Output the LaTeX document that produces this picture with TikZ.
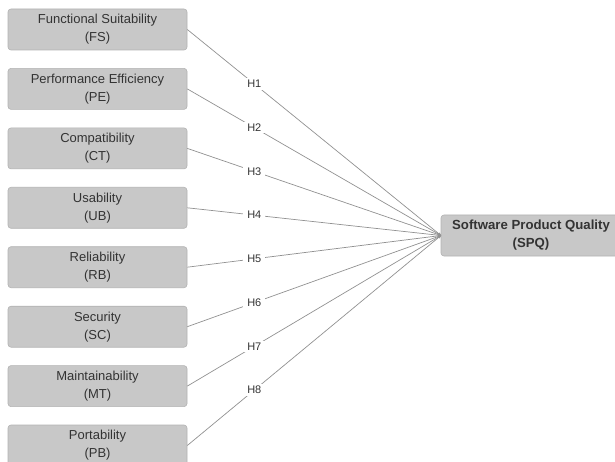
\documentclass[tikz,border=0pt]{standalone}
\usepackage{fontspec}
\setmainfont{Liberation Sans}
\usetikzlibrary{arrows.meta}
\definecolor{boxfill}{RGB}{200,200,200}
\definecolor{boxline}{RGB}{178,178,178}
\definecolor{txt}{RGB}{51,51,51}
\definecolor{wire}{RGB}{145,145,145}
\tikzset{
  factor/.style={rectangle, rounded corners=3pt, fill=boxfill, draw=boxline, line width=0.6pt,
    minimum width=179pt, minimum height=41pt, align=center, text=txt,
    font=\fontsize{13}{18}\selectfont, inner sep=0pt},
  target/.style={factor, minimum width=180pt, font=\bfseries\fontsize{13.2}{18}\selectfont},
  link/.style={draw=wire, line width=0.7pt, -{Stealth[length=3pt,width=3pt]}},
  hyp/.style={pos=0.264, fill=white, text=txt, inner xsep=4pt, inner ysep=2pt, font=\fontsize{11}{12}\selectfont}
}
\begin{document}
\begin{tikzpicture}[x=1pt,y=-1pt]
\useasboundingbox (0,0) rectangle (615,462);
% independent quality characteristics
\node[factor] (fs) at (97.5, 29.5) {Functional Suitability\\(FS)};
\node[factor] (pe) at (97.5, 88.9) {Performance Efficiency\\(PE)};
\node[factor] (ct) at (97.5,148.4) {Compatibility\\(CT)};
\node[factor] (ub) at (97.5,207.8) {Usability\\(UB)};
\node[factor] (rb) at (97.5,267.2) {Reliability\\(RB)};
\node[factor] (sc) at (97.5,326.7) {Security\\(SC)};
\node[factor] (mt) at (97.5,386.1) {Maintainability\\(MT)};
\node[factor] (pb) at (97.5,445.5) {Portability\\(PB)};
% dependent construct
\node[target] (spq) at (531,235.5) {Software Product Quality\\(SPQ)};
\coordinate (hub) at (441,235.5);
% hypotheses
\foreach \src/\h in {fs/H1, pe/H2, ct/H3, ub/H4, rb/H5, sc/H6, mt/H7, pb/H8}
  \draw[link] (\src.east) -- node[hyp] {\h} (hub);
\end{tikzpicture}
\end{document}
